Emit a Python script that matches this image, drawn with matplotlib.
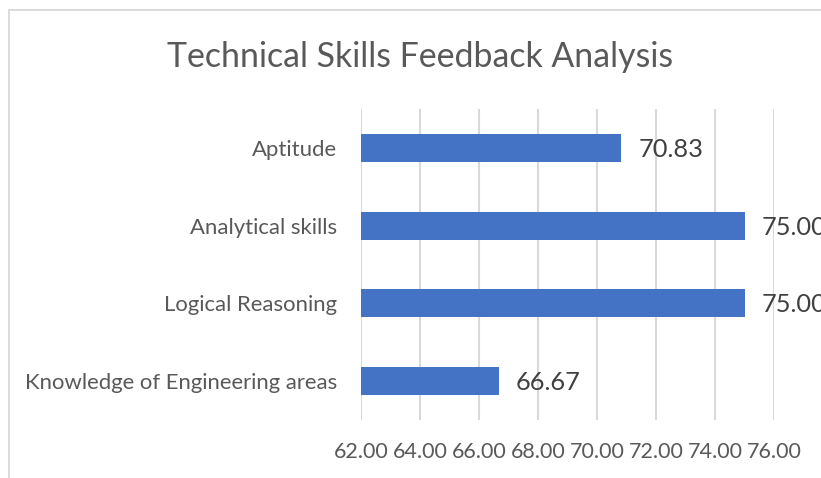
import matplotlib
matplotlib.use("Agg")
import matplotlib.pyplot as plt
from matplotlib.patches import Rectangle

# data (bottom to top, as drawn)
categories = ["Knowledge of Engineering areas", "Logical Reasoning",
              "Analytical skills", "Aptitude"]
scores = [66.67, 75.00, 75.00, 70.83]
xticks = [62, 64, 66, 68, 70, 72, 74, 76]

W, H = 821, 478
plt.rcParams["font.family"] = ["Lato", "DejaVu Sans"]

fig = plt.figure(figsize=(W / 100, H / 100), dpi=100)
fig.patch.set_facecolor("white")

# chart border (only top/left visible, rest cropped)
fig.add_artist(Rectangle((9 / W, -0.1), 1.2, (H - 10) / H + 0.1,
                         transform=fig.transFigure, fill=False,
                         edgecolor="#d9d9d9", linewidth=1.3))

# plot area: x 361..774, y 109..420 (pixels from top)
ax = fig.add_axes([361 / W, 1 - 420 / H, (774 - 361) / W, (420 - 109) / H])
ax.set_facecolor("none")

ypos = range(len(categories))
ax.barh(ypos, scores, height=0.36, left=0, color="#4472C4", zorder=3)
ax.set_xlim(62, 76)
ax.set_ylim(-0.5, len(categories) - 0.5)

ax.set_xticks(xticks)
ax.set_xticklabels([f"{v:.2f}" for v in xticks], fontsize=15.5, color="#595959")
ax.set_yticks(list(ypos))
ax.set_yticklabels(categories, fontsize=15.9, color="#595959")
ax.tick_params(axis="both", length=0)
ax.tick_params(axis="x", pad=16)
ax.tick_params(axis="y", pad=17)

ax.grid(axis="x", color="#d9d9d9", linewidth=1.5, zorder=0)
for s in ax.spines.values():
    s.set_visible(False)

for y, v in zip(ypos, scores):
    ax.annotate(f"{v:.2f}", (v, y), xytext=(12, -1), textcoords="offset points",
                va="center", ha="left", fontsize=18.3, color="#404040",
                annotation_clip=False)

fig.text(420 / W, 1 - 57 / H, "Technical Skills Feedback Analysis",
         ha="center", va="center", fontsize=24.4, color="#595959")

fig.savefig("out.png", dpi=100)
